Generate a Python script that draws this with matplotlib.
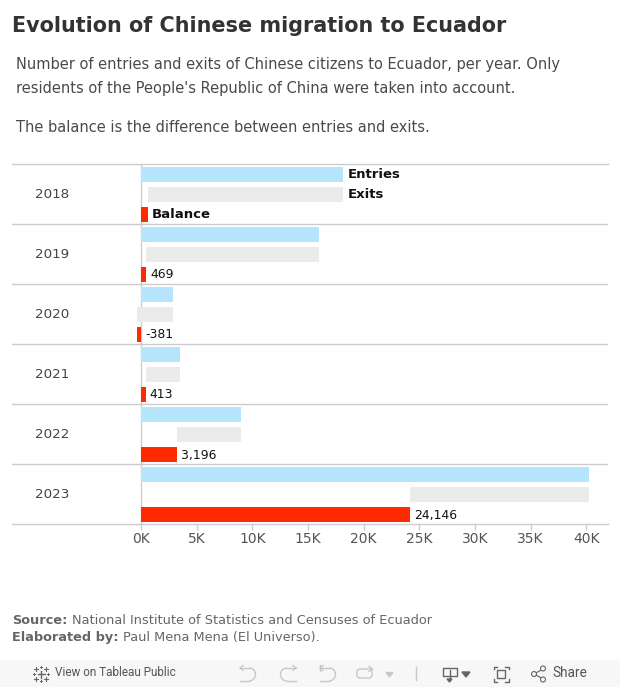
import matplotlib
matplotlib.use('Agg')
import matplotlib.pyplot as plt
from matplotlib.patches import Rectangle, Circle, Arc

# Values
years = ['2018', '2019', '2020', '2021', '2022', '2023']
entries = [18130, 15970, 2850, 3480, 8960, 40250]
exits = [17530, 15501, 3231, 3067, 5764, 16104]
balance = [600, 469, -381, 413, 3196, 24146]
balance_labels = ['Balance', '469', '-381', '413', '3,196', '24,146']
x_ticks = [0, 5000, 10000, 15000, 20000, 25000, 30000, 35000, 40000]
x_tick_labels = ['0K', '5K', '10K', '15K', '20K', '25K', '30K', '35K', '40K']

W, H = 620, 687
fig = plt.figure(figsize=(W / 100, H / 100), dpi=100)

BLUE = '#b5e4fd'
GREY = '#ebebeb'
RED = '#ff2a00'
LINE = '#cccccc'

# chart area, pixels: x 12-608, y 164-524
ax = fig.add_axes([12 / W, 1 - 524 / H, 596 / W, 360 / H])
px_per_unit = 11.13 / 1000
ax.set_xlim((12 - 141) / px_per_unit, (608 - 141) / px_per_unit)
ax.set_ylim(360, 0)  # y in pixels from top of the chart

row_h = 60
for i in range(len(years)):
    top = i * row_h
    ax.barh(top + 10.5, entries[i], height=15, color=BLUE, zorder=2)
    ax.barh(top + 30.5, exits[i], left=balance[i], height=15, color=GREY, zorder=2)
    ax.barh(top + 50.5, balance[i], height=15, color=RED, zorder=2)
    ax.text(40 / 596, top + 30, years[i], transform=ax.get_yaxis_transform(),
            fontsize=9.7, color='#444444', ha='center', va='center', zorder=3)
    if i > 0:
        ax.axhline(top, color=LINE, lw=1, zorder=1)
    # balance label
    x0 = max(balance[i], 0)
    first = i == 0
    ax.annotate(balance_labels[i], (x0, top + 51), xytext=(4.5 if first else 4, 0),
                textcoords='offset pixels', fontsize=9.5 if first else 8.9, va='center',
                color='#111111', fontweight='bold' if first else 'normal', zorder=3)

ax.annotate('Entries', (entries[0], 11), xytext=(5, 0), textcoords='offset pixels',
            fontsize=9.5, fontweight='bold', va='center', color='#111111')
ax.annotate('Exits', (entries[0], 31), xytext=(5, 0), textcoords='offset pixels',
            fontsize=9.5, fontweight='bold', va='center', color='#111111')

ax.axvline(0, color=LINE, lw=1, zorder=1)
for s in ['left', 'right']:
    ax.spines[s].set_visible(False)
for s in ['top', 'bottom']:
    ax.spines[s].set_color(LINE)
    ax.spines[s].set_linewidth(1)
ax.set_yticks([])
ax.set_xticks(x_ticks)
ax.set_xticklabels(x_tick_labels, fontsize=10, color='#555555')
ax.tick_params(axis='x', length=4, width=1, color=LINE, pad=2)

# everything else in page pixels
page = fig.add_axes([0, 0, 1, 1], zorder=-1)
page.set_xlim(0, W)
page.set_ylim(H, 0)
page.axis('off')

page.text(12, 26, 'Evolution of Chinese migration to Ecuador', fontsize=14.95,
          fontweight='bold', color='#333333', va='center')
for txt, y in [('Number of entries and exits of Chinese citizens to Ecuador, per year. Only', 65),
               ("residents of the People's Republic of China were taken into account.", 88),
               ('The balance is the difference between entries and exits.', 127)]:
    page.text(16, y, txt, fontsize=10.5, color='#4a4a4a', va='center')

page.text(12, 620, 'Source:', fontsize=9.25, fontweight='bold', color='#666666', va='center')
page.text(72, 620, 'National Institute of Statistics and Censuses of Ecuador', fontsize=9.25,
          color='#666666', va='center')
page.text(12, 637, 'Elaborated by:', fontsize=9.25, fontweight='bold', color='#666666', va='center')
page.text(123, 637, 'Paul Mena Mena (El Universo).', fontsize=9.25, color='#666666', va='center')

# toolbar
page.add_patch(Rectangle((0, 660), W, 27, color='#f7f7f7', lw=0))
page.text(55, 673, 'View on Tableau Public', fontsize=8.5, color='#555555', va='center',
          fontfamily='Roboto')
page.text(552, 673, 'Share', fontsize=9.8, color='#555555', va='center', fontfamily='Roboto')

icon = '#666666'
faint = '#c8c8c8'


def cross(cx, cy, arm, lw=0.8):
    page.plot([cx - arm, cx + arm], [cy, cy], color=icon, lw=lw)
    page.plot([cx, cx], [cy - arm, cy + arm], color=icon, lw=lw)


def undo_icon(x0, flip):
    # x0 = left edge, icon is 16 px wide; flip makes it a redo
    s = -1 if flip else 1
    xa = x0 + 16 if flip else x0
    page.plot([xa, xa + s * 9], [668, 668], color=faint, lw=1)
    page.plot([xa, xa + s * 9], [681, 681], color=faint, lw=1)
    page.add_patch(Arc((xa + s * 9, 674.5), 13, 13, theta1=-90 if not flip else 90,
                       theta2=90 if not flip else 270, color=faint, lw=1))
    page.plot([xa + s * 3, xa, xa + s * 3], [665.5, 668, 670.5], color=faint, lw=1)


# tableau logo
cross(41, 674, 3.5, 1.0)
for cx, cy in [(36, 669), (46, 669), (36, 679), (46, 679)]:
    cross(cx, cy, 2)
for cx, cy in [(41, 667), (41, 681), (34, 674), (48, 674)]:
    cross(cx, cy, 1.2, 0.7)

undo_icon(240, False)
undo_icon(280, True)
undo_icon(320, False)
page.plot([320, 320], [665, 671], color=faint, lw=1)
# refresh
page.plot([372, 359, 357, 357, 359, 370, 372, 372], [669, 669, 671, 676, 678, 678, 676, 669],
          color=faint, lw=1)
page.plot([369, 372, 369], [666.5, 669, 671.5], color=faint, lw=1)
page.fill([386, 393, 389.5], [672.5, 672.5, 677], color=faint)
page.plot([415.5, 415.5], [667, 680], color=faint, lw=1)
# download
page.plot([449.5, 442.5, 442.5, 456.5, 456.5, 449.5], [675.5, 675.5, 667.5, 667.5, 675.5, 675.5],
          color=icon, lw=1)
page.plot([449.5, 449.5], [670, 680], color=icon, lw=1)
page.fill([447, 452, 449.5], [679, 679, 682], color=icon)
page.fill([462, 470, 466], [672, 672, 677], color=icon)
# fullscreen
page.add_patch(Rectangle((497, 670), 8, 8, fill=False, ec=icon, lw=1))
page.plot([493.5, 493.5, 497], [669, 666.5, 666.5], color=icon, lw=1)
page.plot([505, 508.5, 508.5], [666.5, 666.5, 669], color=icon, lw=1)
page.plot([493.5, 493.5, 497], [679, 681.5, 681.5], color=icon, lw=1)
page.plot([505, 508.5, 508.5], [681.5, 681.5, 679], color=icon, lw=1)
# share
page.plot([543, 534, 543], [669, 674, 679], color=icon, lw=0.8)
for cx, cy in [(543, 668.5), (534, 674), (543, 679.5)]:
    page.add_patch(Circle((cx, cy), 2.5, fc='#f7f7f7', ec=icon, lw=0.8, zorder=3))

fig.savefig('out.png', dpi=100, facecolor='white')
